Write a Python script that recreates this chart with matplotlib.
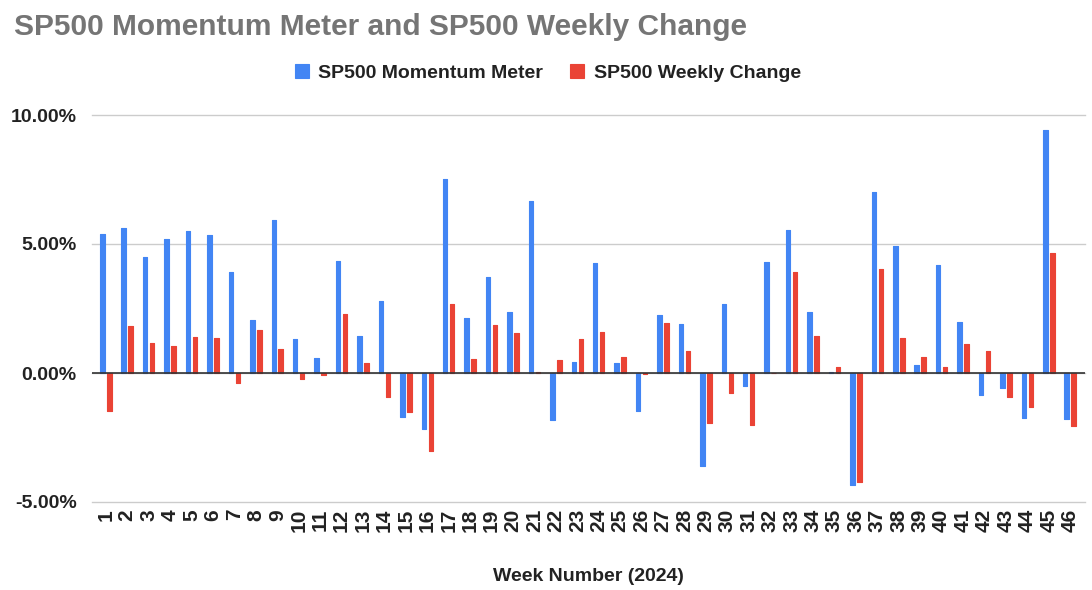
import matplotlib
matplotlib.use("Agg")
import matplotlib.pyplot as plt
from matplotlib.ticker import FuncFormatter
import numpy as np

plt.rcParams['font.family'] = ['Liberation Sans', 'DejaVu Sans']

weeks = [str(i) for i in range(1, 47)]
momentum = [5.39, 5.62, 4.50, 5.19, 5.50, 5.35, 3.92, 2.05, 5.93, 1.32,
            0.58, 4.34, 1.43, 2.79, -1.71, -2.17, 7.52, 2.13, 3.72, 2.36,
            6.67, -1.82, 0.43, 4.26, 0.39, -1.47, 2.25, 1.90, -3.60, 2.67,
            -0.50, 4.30, 5.54, 2.36, 0.04, -4.34, 7.02, 4.92, 0.31, 4.19,
            1.98, -0.85, -0.58, -1.74, 9.42, -1.78]
weekly = [-1.47, 1.82, 1.16, 1.05, 1.40, 1.36, -0.39, 1.67, 0.93, -0.23,
          -0.08, 2.29, 0.39, -0.93, -1.51, -3.02, 2.67, 0.54, 1.86, 1.55,
          0.04, 0.50, 1.32, 1.59, 0.62, -0.05, 1.94, 0.85, -1.94, -0.78,
          -2.02, 0.01, 3.91, 1.43, 0.23, -4.22, 4.03, 1.36, 0.62, 0.23,
          1.12, 0.85, -0.93, -1.32, 4.65, -2.05]
yticks = [-5, 0, 5, 10]

BLUE = '#4285F4'
RED = '#EA4335'

fig = plt.figure(figsize=(10.92, 5.90), dpi=100)
ax = fig.add_axes([92/1092, 88/590, (1085-92)/1092, (502-115)/590])

x = np.arange(len(weeks))
w = 0.21
off = 0.163
b1 = ax.bar(x - off, momentum, width=w, color=BLUE, edgecolor=BLUE, linewidth=0.8,
            label='SP500 Momentum Meter', zorder=3)
b2 = ax.bar(x + off, weekly, width=w, color=RED, edgecolor=RED, linewidth=0.8,
            label='SP500 Weekly Change', zorder=3)
for p in list(b1) + list(b2):
    p.set_joinstyle('round')

ax.set_xlim(-0.644, 45.69)
ax.set_ylim(-5, 10)
ax.set_yticks(yticks)
ax.yaxis.set_major_formatter(FuncFormatter(lambda v, _: f'{v:.2f}%'))
ax.set_xticks(x)
ax.set_xticklabels(weeks, rotation=90, fontsize=15, fontweight='bold', color='#222222')
for lab in ax.get_yticklabels():
    lab.set_fontsize(14)
    lab.set_fontweight('bold')
    lab.set_color('#222222')
ax.tick_params(axis='both', length=0)
ax.tick_params(axis='y', pad=11)
ax.tick_params(axis='x', pad=5)

ax.grid(axis='y', color='#cccccc', linewidth=1, zorder=0)
for gl in ax.yaxis.get_gridlines():
    gl.set_clip_on(False)
ax.axhline(0, color='#333333', linewidth=1.2, zorder=4)
for s in ax.spines.values():
    s.set_visible(False)

ax.set_xlabel('Week Number (2024)', fontsize=14, fontweight='bold', color='#222222', labelpad=26)

fig.text(14/1092, 1 - 27/590, 'SP500 Momentum Meter and SP500 Weekly Change',
         fontsize=21.5, fontweight='bold', color='#757575', ha='left', va='center')

leg = fig.legend(handles=[b1, b2], loc='center', bbox_to_anchor=(548/1092, 1 - 73/590),
                 ncol=2, frameon=False, prop={'size': 14, 'weight': 'bold'},
                 handlelength=0.7, handleheight=0.7, handletextpad=0.5, columnspacing=1.4)
for t in leg.get_texts():
    t.set_color('#222222')

fig.savefig('out.png', dpi=100)
